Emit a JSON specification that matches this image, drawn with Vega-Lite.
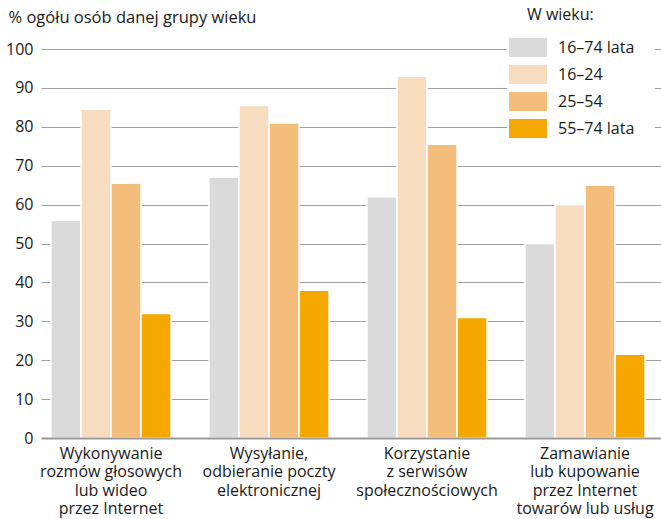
{
  "$schema": "https://vega.github.io/schema/vega-lite/v6.json",
  "width": 620,
  "height": 389,
  "autosize": {"type": "none"},
  "padding": {"left": 41, "top": 49, "right": 0, "bottom": 81},
  "config": {
    "view": {"stroke": null},
    "font": "Open Sans",
    "axis": {"labelFont": "Open Sans", "titleFont": "Open Sans", "labelColor": "#1a1a1a", "titleColor": "#1a1a1a"},
    "legend": {"labelFont": "Open Sans", "titleFont": "Open Sans"}
  },
  "data": {
    "values": [
      {"kategoria": "Wykonywanie\nrozmów głosowych\nlub wideo\nprzez Internet", "wiek": "16–74 lata", "procent": 56},
      {"kategoria": "Wykonywanie\nrozmów głosowych\nlub wideo\nprzez Internet", "wiek": "16–24", "procent": 84.5},
      {"kategoria": "Wykonywanie\nrozmów głosowych\nlub wideo\nprzez Internet", "wiek": "25–54", "procent": 65.5},
      {"kategoria": "Wykonywanie\nrozmów głosowych\nlub wideo\nprzez Internet", "wiek": "55–74 lata", "procent": 32},
      {"kategoria": "Wysyłanie,\nodbieranie poczty\nelektronicznej", "wiek": "16–74 lata", "procent": 67},
      {"kategoria": "Wysyłanie,\nodbieranie poczty\nelektronicznej", "wiek": "16–24", "procent": 85.5},
      {"kategoria": "Wysyłanie,\nodbieranie poczty\nelektronicznej", "wiek": "25–54", "procent": 81},
      {"kategoria": "Wysyłanie,\nodbieranie poczty\nelektronicznej", "wiek": "55–74 lata", "procent": 38},
      {"kategoria": "Korzystanie\nz serwisów\nspołecznościowych", "wiek": "16–74 lata", "procent": 62},
      {"kategoria": "Korzystanie\nz serwisów\nspołecznościowych", "wiek": "16–24", "procent": 93},
      {"kategoria": "Korzystanie\nz serwisów\nspołecznościowych", "wiek": "25–54", "procent": 75.5},
      {"kategoria": "Korzystanie\nz serwisów\nspołecznościowych", "wiek": "55–74 lata", "procent": 31},
      {"kategoria": "Zamawianie\nlub kupowanie\nprzez Internet\ntowarów lub usług", "wiek": "16–74 lata", "procent": 50},
      {"kategoria": "Zamawianie\nlub kupowanie\nprzez Internet\ntowarów lub usług", "wiek": "16–24", "procent": 60},
      {"kategoria": "Zamawianie\nlub kupowanie\nprzez Internet\ntowarów lub usług", "wiek": "25–54", "procent": 65},
      {"kategoria": "Zamawianie\nlub kupowanie\nprzez Internet\ntowarów lub usług", "wiek": "55–74 lata", "procent": 21.5}
    ]
  },
  "mark": {"type": "bar", "stroke": "white", "strokeWidth": 1.5},
  "encoding": {
    "x": {
      "field": "kategoria",
      "type": "nominal",
      "sort": null,
      "scale": {"paddingInner": 0.24, "paddingOuter": 0.082, "align": 0.385},
      "axis": {
        "title": null,
        "labelAngle": 0,
        "labelExpr": "split(datum.label, '\\n')",
        "labelFontSize": 16,
        "labelLineHeight": 18.5,
        "labelBaseline": "top",
        "labelPadding": 7,
        "labelLimit": 250,
        "ticks": false,
        "domainColor": "#999999",
        "domainWidth": 2,
        "zindex": 1
      }
    },
    "xOffset": {
      "field": "wiek",
      "type": "nominal",
      "sort": ["16–74 lata", "16–24", "25–54", "55–74 lata"],
      "scale": {"paddingInner": 0, "paddingOuter": 0}
    },
    "y": {
      "field": "procent",
      "type": "quantitative",
      "scale": {"domain": [0, 100]},
      "axis": {
        "values": [0, 10, 20, 30, 40, 50, 60, 70, 80, 90, 100],
        "title": "% ogółu osób danej grupy wieku",
        "titleAngle": 0,
        "titleAlign": "left",
        "titleBaseline": "alphabetic",
        "titleX": -33,
        "titleY": -27,
        "titleFontSize": 16.5,
        "titleFontWeight": "normal",
        "labelFontSize": 16,
        "labelPadding": 8,
        "domain": false,
        "ticks": false,
        "grid": true,
        "gridColor": "#a0a0a0",
        "gridWidth": 1.2
      }
    },
    "color": {
      "field": "wiek",
      "type": "nominal",
      "sort": ["16–74 lata", "16–24", "25–54", "55–74 lata"],
      "scale": {
        "domain": ["16–74 lata", "16–24", "25–54", "55–74 lata"],
        "range": ["#dadada", "#f7dcc0", "#f5bd7b", "#f4a800"]
      },
      "legend": {
        "title": "W wieku:",
        "orient": "none",
        "legendX": 466,
        "legendY": -62,
        "padding": 20,
        "fillColor": "white",
        "symbolType": "M-1,-1H3V1H-1Z",
        "symbolSize": 361,
        "symbolStrokeWidth": 0,
        "symbolOpacity": 1,
        "symbolOffset": -18,
        "labelOffset": 30,
        "labelFontSize": 16,
        "labelColor": "#1a1a1a",
        "titleFontSize": 16,
        "titleFontWeight": "normal",
        "titleColor": "#1a1a1a",
        "titlePadding": 15,
        "rowPadding": 8
      }
    }
  }
}
